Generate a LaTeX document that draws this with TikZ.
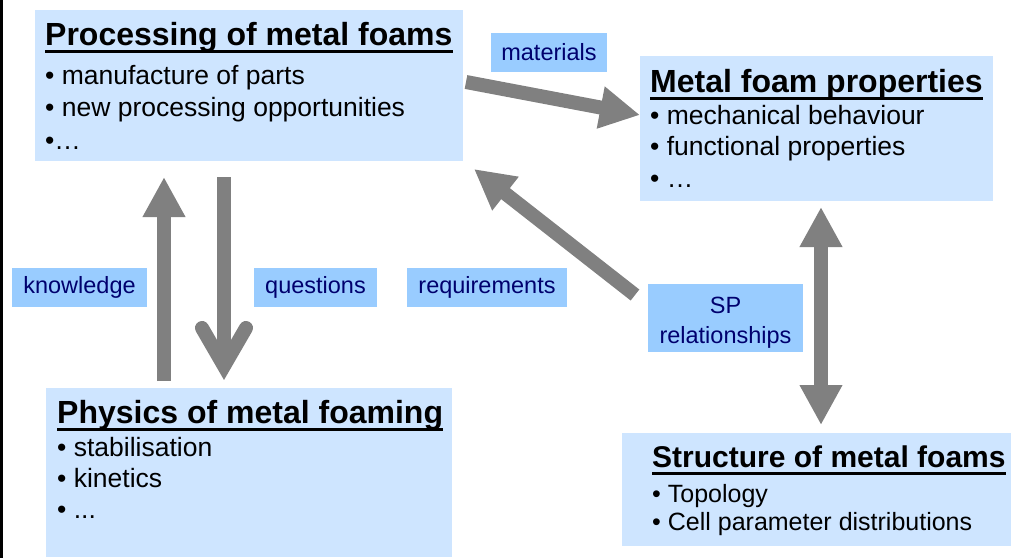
\documentclass[tikz,border=0pt]{standalone}
\usepackage{fontspec}
\setmainfont{Liberation Sans}
\usetikzlibrary{arrows.meta}

\definecolor{boxblue}{RGB}{206,229,255}
\definecolor{tagblue}{RGB}{153,204,255}
\definecolor{tagtext}{RGB}{0,0,110}
\definecolor{arrowgray}{RGB}{128,128,128}
\newcommand\pdots{...}

\tikzset{
  box/.style={fill=boxblue, inner sep=0pt, anchor=north west},
  ttl/.style={inner sep=0pt, anchor=base west, font=\bfseries\fontsize{32}{38}\selectfont},
  item/.style={inner sep=0pt, anchor=base west, font=\fontsize{26.5}{32}\selectfont},
  tag/.style={fill=tagblue, text=tagtext, inner sep=0pt, align=center,
    font=\fontsize{23.5}{30}\selectfont},
  uline/.style={line width=3pt},
  bigarrow/.style={draw=arrowgray, line width=14pt, -{Triangle[width=40pt,length=40pt]}},
  dblarrow/.style={draw=arrowgray, line width=14pt,
    {Triangle[width=40pt,length=40pt]}-{Triangle[width=40pt,length=40pt]}},
  openarrow/.style={draw=arrowgray, line width=14pt, line cap=round, line join=miter},
}

\begin{document}
\begin{tikzpicture}[x=1pt,y=-1pt]
    \useasboundingbox (0,0) rectangle (1013,558);
    \fill (0,0) rectangle (2.5,558);

    % boxes
    \node[box, minimum width=428pt, minimum height=151pt] (proc) at (35,10) {};
    \node[box, minimum width=353pt, minimum height=145pt] (prop) at (640,56) {};
    \node[box, minimum width=406pt, minimum height=169pt] (phys) at (46,388) {};
    \node[box, minimum width=389pt, minimum height=113pt] (struc) at (622,433) {};

    % titles
    \node[ttl] (proct) at (45,45) {Processing of metal foams};
    \node[ttl] (propt) at (650,92) {Metal foam properties};
    \node[ttl] (physt) at (57,423) {Physics of metal foaming};
    \node[ttl, font=\bfseries\fontsize{30}{36}\selectfont] (struct) at (652,467) {Structure of metal foams};
    \foreach \t in {proct,propt,physt,struct}
        \draw[uline] ([yshift=-6pt]\t.base west) -- ([yshift=-6pt]\t.base east);

    % bullet lines
    \foreach \t [count=\i] in {• manufacture of parts, • new processing opportunities, •…}
        \node[item] (proc\i) at (45,{84+32.5*(\i-1)}) {\t};
    \foreach \t [count=\i] in {• mechanical behaviour, • functional properties, • …}
        \node[item] (prop\i) at (650,{124+31.5*(\i-1)}) {\t};
    \foreach \t [count=\i] in {• stabilisation, • kinetics, • \pdots}
        \node[item] (phys\i) at (57,{456+31*(\i-1)}) {\t};
    \foreach \t [count=\i] in {• Topology, • Cell parameter distributions}
        \node[item, font=\fontsize{25}{30}\selectfont] (struc\i) at (652,{502+28*(\i-1)}) {\t};

    % arrow ends
    \coordinate (ma0) at (466,82);
    \coordinate (ma1) at (640,115);
    \coordinate (kn0) at (164,381);
    \coordinate (kn1) at (164,177);
    \coordinate (qu0) at (224,177);
    \coordinate (qu1) at (224,366);
    \coordinate (re0) at (635,295);
    \coordinate (re1) at (474,169);
    \coordinate (sp0) at (821,207);
    \coordinate (sp1) at (821,425);

    \draw[bigarrow] (ma0) -- (ma1);
    \draw[bigarrow] (kn0) -- (kn1);
    \draw[bigarrow] (re0) -- (re1);
    \draw[dblarrow] (sp0) -- (sp1);
    \draw[draw=arrowgray, line width=14pt] (qu0) -- (qu1);
    \draw[openarrow] ([xshift=-22pt,yshift=38pt]qu1) -- (qu1) -- ([xshift=22pt,yshift=38pt]qu1);

    % labels
    \node[tag, minimum width=116pt, minimum height=39pt] (mat) at (549,52.5) {materials};
    \node[tag, minimum width=135pt, minimum height=39pt] (know) at (79.5,287.5) {knowledge};
    \node[tag, minimum width=123pt, minimum height=39pt] (ques) at (315.5,287.5) {questions};
    \node[tag, minimum width=160pt, minimum height=39pt] (req) at (487,287.5) {requirements};
    \node[tag, minimum width=155pt, minimum height=68pt] (sp) at (725.5,318) {\rule{0pt}{25pt}SP\\relationships};
\end{tikzpicture}
\end{document}
